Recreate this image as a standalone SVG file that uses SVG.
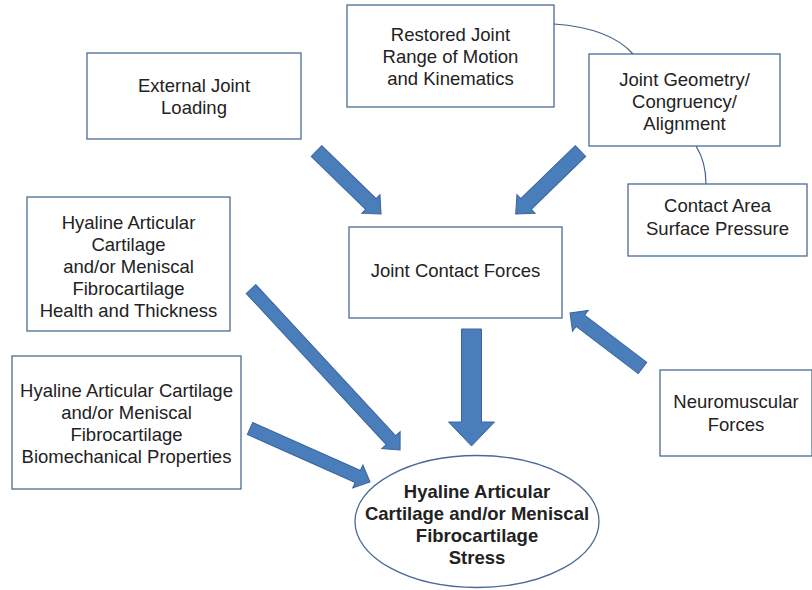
<svg xmlns="http://www.w3.org/2000/svg" width="812" height="590" viewBox="0 0 812 590">
<style>
.box{fill:#fff;stroke:#4a6a94;stroke-width:1.3}
.t{font-family:"Liberation Sans",Arial,sans-serif;font-size:18.5px;fill:#222;text-anchor:middle}
.b{font-weight:bold}
.arr{fill:#4a7ebb;stroke:#3a64a0;stroke-width:1}
.con{fill:none;stroke:#3d5f8a;stroke-width:1.2}
</style>
<rect width="812" height="590" fill="#fff"/>
<g id="connectors">
<path class="con" d="M554,24 Q610,28 633,54"/>
<path class="con" d="M696,146 Q706,162 706,184"/>
<polygon class="arr" points="0,-7.5 76,-7.5 76,-13 90.2,0 76,13 76,7.5 0,7.5" transform="translate(316.5,151) rotate(44.3)"/>
<polygon class="arr" points="0,-7.5 76,-7.5 76,-13 90.4,0 76,13 76,7.5 0,7.5" transform="translate(580.5,151) rotate(135.8)"/>
<polygon class="arr" points="0,-10 93,-10 93,-23 117,0 93,23 93,10 0,10" transform="translate(471.5,329) rotate(90)"/>
<polygon class="arr" points="0,-6.5 206,-6.5 206,-12.5 219.4,0 206,12.5 206,6.5 0,6.5" transform="translate(251,289) rotate(47.2)"/>
<polygon class="arr" points="0,-6.5 118,-6.5 118,-12.5 131.4,0 118,12.5 118,6.5 0,6.5" transform="translate(250,428.5) rotate(24)"/>
<polygon class="arr" points="0,-7 78,-7 78,-13 91,0 78,13 78,7 0,7" transform="translate(642.5,368) rotate(217.2)"/>
</g>
<g id="external">
<rect class="box" x="87" y="53" width="214" height="86"/>
<text class="t" x="194" y="92">External Joint</text>
<text class="t" x="194" y="114">Loading</text>
</g>
<g id="restored">
<rect class="box" x="347" y="5" width="207" height="102"/>
<text class="t" x="450.5" y="41">Restored Joint</text>
<text class="t" x="450.5" y="63">Range of Motion</text>
<text class="t" x="450.5" y="85">and Kinematics</text>
</g>
<g id="geometry">
<rect class="box" x="589" y="54" width="191" height="92"/>
<text class="t" x="684.5" y="86">Joint Geometry/</text>
<text class="t" x="684.5" y="108">Congruency/</text>
<text class="t" x="684.5" y="130">Alignment</text>
</g>
<g id="contactarea">
<rect class="box" x="628" y="184" width="179" height="72"/>
<text class="t" x="717.5" y="212">Contact Area</text>
<text class="t" x="717.5" y="235">Surface Pressure</text>
</g>
<g id="jcf">
<rect class="box" x="349" y="227" width="213" height="91"/>
<text class="t" x="455.5" y="277">Joint Contact Forces</text>
</g>
<g id="health">
<rect class="box" x="27" y="197" width="203" height="134"/>
<text class="t" x="128.5" y="229">Hyaline Articular</text>
<text class="t" x="128.5" y="251">Cartilage</text>
<text class="t" x="128.5" y="273">and/or Meniscal</text>
<text class="t" x="128.5" y="295">Fibrocartilage</text>
<text class="t" x="128.5" y="317">Health and Thickness</text>
</g>
<g id="biomech">
<rect class="box" x="12" y="356" width="229" height="133"/>
<text class="t" x="126.5" y="397">Hyaline Articular Cartilage</text>
<text class="t" x="126.5" y="419">and/or Meniscal</text>
<text class="t" x="126.5" y="441">Fibrocartilage</text>
<text class="t" x="126.5" y="463">Biomechanical Properties</text>
</g>
<g id="neuro">
<rect class="box" x="660" y="370" width="152" height="86"/>
<text class="t" x="736" y="408">Neuromuscular</text>
<text class="t" x="736" y="431">Forces</text>
</g>
<g id="stress">
<ellipse class="box" cx="477" cy="521.5" rx="122" ry="66"/>
<text class="t b" x="477" y="498">Hyaline Articular</text>
<text class="t b" x="477" y="520">Cartilage and/or Meniscal</text>
<text class="t b" x="477" y="542">Fibrocartilage</text>
<text class="t b" x="477" y="564">Stress</text>
</g>
</svg>
